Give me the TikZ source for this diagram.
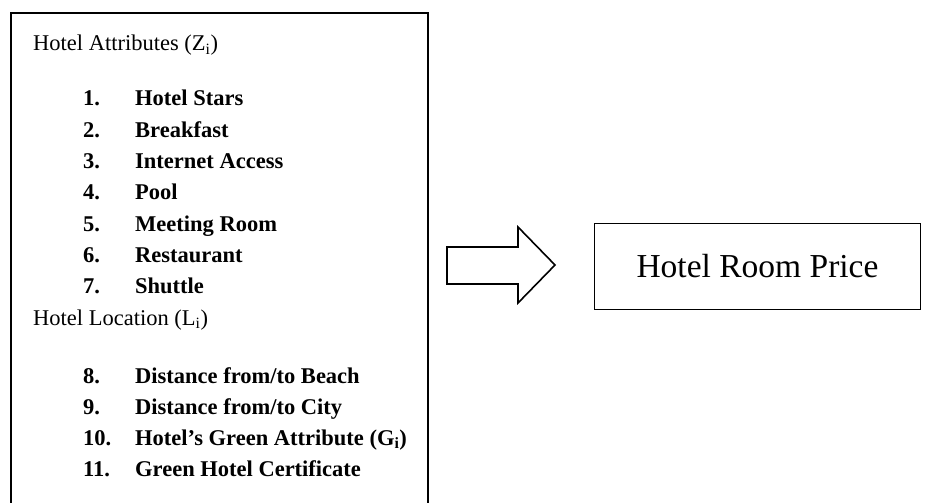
\documentclass[tikz,border=0pt]{standalone}
\usepackage{fontspec}
\setmainfont{Liberation Serif}
\usetikzlibrary{positioning}
\tikzset{
  txt/.style={anchor=base west,inner sep=0pt,font=\fontsize{22.5}{27}\selectfont},
  itm/.style={txt,font=\fontsize{22.5}{27}\selectfont\bfseries},
  pbox/.style={draw,line width=1.6pt,minimum width=326pt,minimum height=86pt,inner sep=0pt,font=\fontsize{33.5}{40}\selectfont}
}
\newcommand{\num}[1]{\makebox[52pt][l]{#1}}
\begin{document}
\begin{tikzpicture}[x=1pt,y=-1pt,line join=miter]
	\useasboundingbox (0,0) rectangle (927,503);
	% left box, open at the bottom
	\coordinate (BL) at (11,503);
	\coordinate (TL) at (11,13);
	\coordinate (TR) at (428,13);
	\coordinate (BR) at (428,503);
	\draw[line width=2.6pt] (BL)--(TL)--(TR)--(BR);
	\node[txt] (attr) at (33,51) {Hotel Attributes (Z\textsubscript{i})};
	\node[itm] (item1) at (83,106) {\num{1.}Hotel Stars};
	\node[itm] (item2) at (83,137) {\num{2.}Breakfast};
	\node[itm] (item3) at (83,168.5) {\num{3.}Internet Access};
	\node[itm] (item4) at (83,199.5) {\num{4.}Pool};
	\node[itm] (item5) at (83,231) {\num{5.}Meeting Room};
	\node[itm] (item6) at (83,262) {\num{6.}Restaurant};
	\node[itm] (item7) at (83,293) {\num{7.}Shuttle};
	\node[txt] (loc) at (33,325) {Hotel Location (L\textsubscript{i})};
	\node[itm] (item8) at (83,383) {\num{8.}Distance from/to Beach};
	\node[itm] (item9) at (83,414) {\num{9.}Distance from/to City};
	\node[itm] (item10) at (83,445) {\num{10.}Hotel’s Green Attribute (G\textsubscript{i})};
	\node[itm] (item11) at (83,476) {\num{11.}Green Hotel Certificate};
	% output
	\node[pbox] (price) at (757.5,266.5) {Hotel Room Price};
	% block arrow
	\coordinate (A1) at (447,247);
	\coordinate (A2) at (518,247);
	\coordinate (A3) at (518,227);
	\coordinate (tip) at (555,265);
	\coordinate (A5) at (518,303);
	\coordinate (A6) at (518,284);
	\coordinate (A7) at (447,284);
	\draw[line width=1.6pt] (A1)--(A2)--(A3)--(tip)--(A5)--(A6)--(A7)--cycle;
\end{tikzpicture}
\end{document}
